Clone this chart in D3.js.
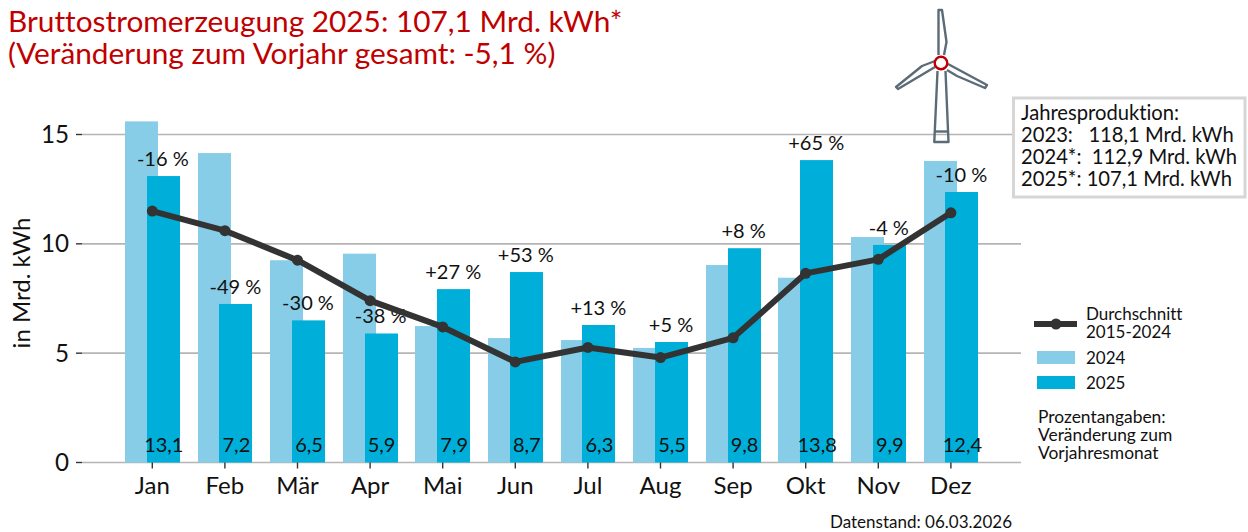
<!DOCTYPE html>
<html><head><meta charset="utf-8">
<script src="https://cdnjs.cloudflare.com/ajax/libs/d3/7.8.5/d3.min.js"></script>
<style>html,body{margin:0;padding:0;background:#fff}svg{display:block}text{font-family:Lato,"Open Sans",sans-serif;fill:#111;font-variant-ligatures:none}</style>
</head><body><svg id="c" width="1248" height="532"></svg>
<script>
const months=["Jan","Feb","Mär","Apr","Mai","Jun","Jul","Aug","Sep","Okt","Nov","Dez"];
const values2024=[15.6,14.15,9.25,9.55,6.24,5.69,5.6,5.24,9.03,8.45,10.31,13.79];
const values2025=[13.1,7.25,6.5,5.9,7.93,8.71,6.29,5.51,9.8,13.83,9.95,12.37];
const labels2025=["13,1","7,2","6,5","5,9","7,9","8,7","6,3","5,5","9,8","13,8","9,9","12,4"];
const average=[11.5,10.6,9.25,7.4,6.2,4.6,5.26,4.8,5.7,8.65,9.29,11.42];
const changes=["-16 %","-49 %","-30 %","-38 %","+27 %","+53 %","+13 %","+5 %","+8 %","+65 %","-4 %","-10 %"];
const yTicks=[0,5,10,15];
const titleLines=["Bruttostromerzeugung 2025: 107,1 Mrd. kWh*","(Veränderung zum Vorjahr gesamt: -5,1 %)"];
const boxLines=["Jahresproduktion:","2023:   118,1 Mrd. kWh","2024*:  112,9 Mrd. kWh","2025*: 107,1 Mrd. kWh"];
const legendLine=["Durchschnitt","2015-2024"];
const noteLines=["Prozentangaben:","Veränderung zum","Vorjahresmonat"];
const C24="#87cde8",C25="#00afd9",CL="#333333",RED="#c00000",GRID="#b5b5b5",TUR="#5b6b78";

const svg=d3.select("#c");
const x=d3.scaleBand().domain(months).range([116,987.2]).padding(0);
const y=d3.scaleLinear().domain([0,15]).range([462.5,134.5]);
const cx=m=>x(m)+x.bandwidth()/2;
const barW=33;

function block(lines,xp,y0,dy,size,color){
  const t=svg.append("text").attr("x",xp).attr("y",y0).attr("font-size",size).style("white-space","pre");
  if(color)t.style("fill",color);
  t.selectAll("tspan").data(lines).join("tspan").attr("x",xp).attr("y",(d,i)=>y0+i*dy).text(d=>d);
}

svg.append("g").selectAll("line").data(yTicks).join("line")
 .attr("x1",82).attr("x2",1021).attr("y1",d=>y(d)).attr("y2",d=>y(d))
 .attr("stroke",GRID).attr("stroke-width",1.6);
svg.append("g").selectAll("line").data(yTicks).join("line")
 .attr("x1",76).attr("x2",82).attr("y1",d=>y(d)).attr("y2",d=>y(d))
 .attr("stroke","#333").attr("stroke-width",1.4);
svg.append("g").selectAll("text").data(yTicks).join("text")
 .attr("x",69).attr("y",d=>y(d)+8.5).attr("text-anchor","end").attr("font-size",24.2).text(d=>d);
svg.append("text").attr("transform","translate(30,283) rotate(-90)").attr("text-anchor","middle")
 .attr("font-size",24).text("in Mrd. kWh");

svg.append("g").selectAll("rect").data(months).join("rect")
 .attr("x",m=>Math.round(cx(m)-27.3)).attr("width",barW)
 .attr("y",(m,i)=>y(values2024[i])).attr("height",(m,i)=>y(0)-y(values2024[i])).attr("fill",C24);
svg.append("g").selectAll("rect").data(months).join("rect")
 .attr("x",m=>Math.round(cx(m)-5.5)).attr("width",barW)
 .attr("y",(m,i)=>y(values2025[i])).attr("height",(m,i)=>y(0)-y(values2025[i])).attr("fill",C25);
svg.append("g").selectAll("line").data(months).join("line")
 .attr("x1",cx).attr("x2",cx).attr("y1",y(0)).attr("y2",y(0)+6).attr("stroke","#333").attr("stroke-width",1.4);
svg.append("g").selectAll("text").data(months).join("text")
 .attr("x",cx).attr("y",y(0)+31).attr("text-anchor","middle").attr("font-size",24).text(d=>d);
svg.append("g").selectAll("text").data(labels2025).join("text")
 .attr("x",(d,i)=>cx(months[i])+11.5).attr("y",451.5).attr("text-anchor","middle").attr("font-size",20).text(d=>d);
svg.append("g").selectAll("text").data(changes).join("text")
 .attr("x",(d,i)=>cx(months[i])+10.5).attr("y",(d,i)=>y(values2025[i])-10.3).attr("text-anchor","middle").attr("font-size",20).text(d=>d);
const line=d3.line().x((d,i)=>cx(months[i])).y(d=>y(d));
svg.append("path").attr("d",line(average)).attr("fill","none").attr("stroke",CL).attr("stroke-width",6).attr("stroke-linejoin","round");
svg.append("g").selectAll("circle").data(average).join("circle")
 .attr("cx",(d,i)=>cx(months[i])).attr("cy",d=>y(d)).attr("r",5.5).attr("fill",CL);

block(titleLines,8,32,32,29.8,RED);

const t=svg.append("g").attr("fill","none").attr("stroke",TUR).attr("stroke-width",2.4).attr("stroke-linejoin","round");
t.append("path").attr("d","M937.5 71 L934.3 142 L948.5 142 L945.5 71");
t.append("path").attr("d","M934.8 131.5 H948.2");
t.append("path").attr("d","M938.5 55 L938.5 10 L942 10 L946.5 42 L944 55");
t.append("path").attr("d","M935 61 L922 66 L896 87 L898 89 L935 67");
t.append("path").attr("d","M948 64 L987 85 L985 88 L957 76 L947 70");
svg.append("circle").attr("cx",941).attr("cy",63).attr("r",6.3).attr("fill","#fff").attr("stroke",RED).attr("stroke-width",2.4);

svg.append("rect").attr("x",1013.5).attr("y",98).attr("width",231.5).attr("height",99).attr("fill","#fff").attr("stroke","#d6d6d6").attr("stroke-width",3);
block(boxLines,1021,119.5,22,20.2);

svg.append("line").attr("x1",1034).attr("x2",1077).attr("y1",324).attr("y2",324).attr("stroke",CL).attr("stroke-width",6);
svg.append("circle").attr("cx",1056).attr("cy",324).attr("r",5.5).attr("fill",CL);
block(legendLine,1086,320,18,17);
svg.append("rect").attr("x",1037).attr("y",351).attr("width",38).attr("height",13).attr("fill",C24);
svg.append("text").attr("x",1086).attr("y",364).attr("font-size",17).text("2024");
svg.append("rect").attr("x",1037).attr("y",376).attr("width",38).attr("height",13).attr("fill",C25);
svg.append("text").attr("x",1086).attr("y",389).attr("font-size",17).text("2025");
block(noteLines,1038,422.5,18.2,17.4);
svg.append("text").attr("x",1012).attr("y",528).attr("text-anchor","end").attr("font-size",17).text("Datenstand: 06.03.2026");
</script></body></html>
